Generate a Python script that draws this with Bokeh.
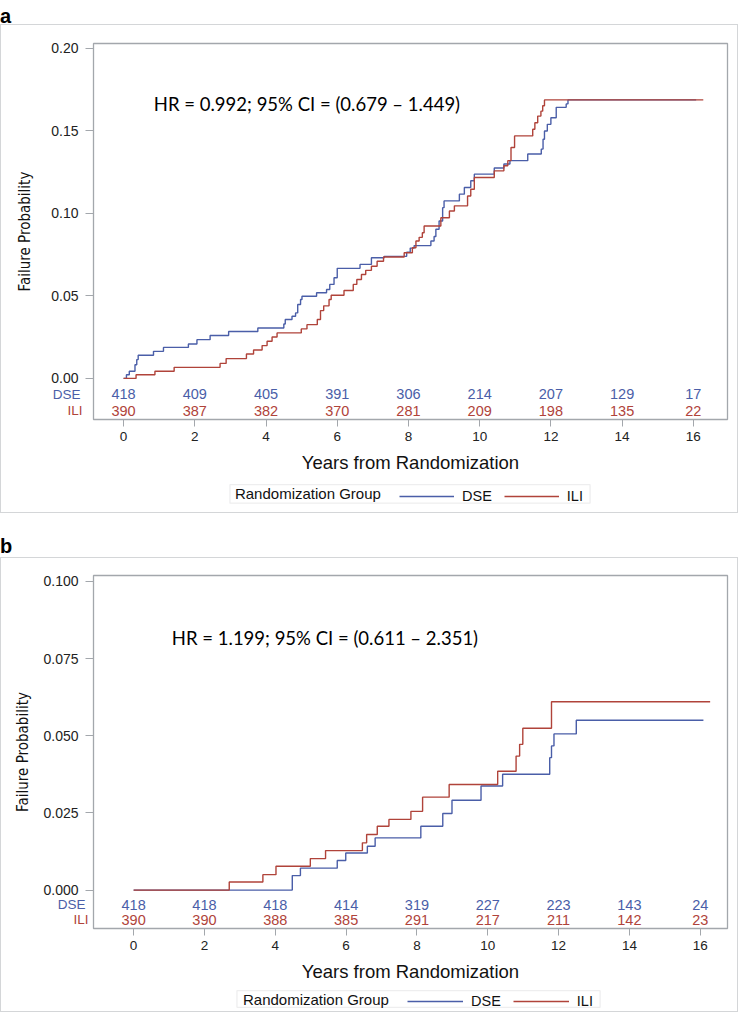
from bokeh.plotting import figure
from bokeh.models import (Range1d, Label, Legend, LegendItem, Div, LinearAxis, BoxAnnotation,
                          FixedTicker, NumeralTickFormatter, ColumnDataSource)
from bokeh.layouts import column
from bokeh.embed import file_html
from bokeh.resources import INLINE
from bokeh.core.properties import value

# ---------------- data ----------------
year_ticks = [0, 2, 4, 6, 8, 10, 12, 14, 16]

# Panel a : step curves (time, cumulative failure probability)
a_dse_t = [0.0, 0.08, 0.16, 0.32, 0.37, 0.41, 0.84, 1.12, 1.82, 2.06, 2.43, 2.95, 3.77,
           4.50, 4.54, 4.73, 4.83, 4.89, 4.97, 5.01, 5.42, 5.70, 5.79, 5.91, 6.00, 6.64,
           6.96, 7.32, 7.95, 8.05, 8.16, 8.63, 8.72, 8.77, 8.86, 8.96, 9.00, 9.43, 9.57,
           9.75, 9.85, 10.41, 10.68, 10.85, 11.35, 11.73, 11.78, 11.82, 11.90, 12.00,
           12.15, 12.43, 12.48, 16.08]
a_dse_p = [0.0, 0.0022, 0.0043, 0.0083, 0.0114, 0.0140, 0.0164, 0.0188, 0.0209, 0.0235,
           0.0260, 0.0284, 0.0306, 0.0330, 0.0357, 0.0377, 0.0397, 0.0448, 0.0478, 0.0498,
           0.0519, 0.0539, 0.0570, 0.0610, 0.0667, 0.0691, 0.0731, 0.0740, 0.0765, 0.0790,
           0.0805, 0.0833, 0.0860, 0.0904, 0.0954, 0.1035, 0.1076, 0.1117, 0.1157, 0.1198,
           0.1238, 0.1275, 0.1300, 0.1320, 0.1360, 0.1390, 0.1450, 0.1500, 0.1540, 0.1580,
           0.1643, 0.1664, 0.1688, 0.1688]
a_ili_t = [0.0, 0.35, 0.88, 1.42, 2.71, 2.88, 3.45, 3.65, 3.89, 4.03, 4.17, 4.31, 4.99,
           5.15, 5.44, 5.53, 5.62, 5.77, 5.83, 6.19, 6.45, 6.55, 6.68, 6.80, 6.96, 7.12,
           7.30, 7.88, 8.11, 8.21, 8.30, 8.39, 8.44, 8.91, 9.15, 9.29, 9.66, 9.75, 9.85,
           10.41, 10.68, 10.79, 10.88, 10.98, 11.49, 11.55, 11.63, 11.72, 11.77, 11.82, 16.28]
a_ili_p = [0.0, 0.0022, 0.0043, 0.0067, 0.0091, 0.0120, 0.0148, 0.0172, 0.0199, 0.0225,
           0.0251, 0.0276, 0.0300, 0.0326, 0.0357, 0.0411, 0.0440, 0.0478, 0.0504, 0.0533,
           0.0570, 0.0600, 0.0630, 0.0655, 0.0680, 0.0710, 0.0736, 0.0762, 0.0792, 0.0833,
           0.0855, 0.0883, 0.0924, 0.0974, 0.1015, 0.1046, 0.1106, 0.1147, 0.1218, 0.1258,
           0.1289, 0.1320, 0.1400, 0.1470, 0.1510, 0.1550, 0.1590, 0.1620, 0.1653, 0.1688,
           0.1688]
a_dse_risk = [418, 409, 405, 391, 306, 214, 207, 129, 17]
a_ili_risk = [390, 387, 382, 370, 281, 209, 198, 135, 22]
a_hr_text = "HR = 0.992; 95% CI = (0.679 \u2013 1.449)"
a_yticks = [0.0, 0.05, 0.10, 0.15, 0.20]

# Panel b
b_dse_t = [0.0, 4.48, 4.71, 5.75, 5.99, 6.60, 6.82, 8.11, 8.73, 8.99, 9.81, 10.42,
           11.75, 11.80, 11.87, 12.50, 16.09]
b_dse_p = [0.0, 0.0047, 0.0071, 0.0096, 0.0120, 0.0142, 0.0169, 0.0207, 0.0248, 0.0291,
           0.0337, 0.0375, 0.0429, 0.0467, 0.0506, 0.0550, 0.0550]
b_ili_t = [0.0, 2.70, 3.65, 4.02, 4.99, 5.42, 6.46, 6.58, 6.88, 7.21, 7.83, 8.16, 8.91,
           10.28, 10.80, 10.90, 10.99, 11.80, 16.28]
b_ili_p = [0.0, 0.0026, 0.0050, 0.0077, 0.0102, 0.0128, 0.0153, 0.0180, 0.0207, 0.0229,
           0.0255, 0.0301, 0.0342, 0.0385, 0.0434, 0.0472, 0.0524, 0.0610, 0.0610]
b_dse_risk = [418, 418, 418, 414, 319, 227, 223, 143, 24]
b_ili_risk = [390, 390, 388, 385, 291, 217, 211, 142, 23]
b_hr_text = "HR = 1.199; 95% CI = (0.611 \u2013 2.351)"
b_yticks = [0.0, 0.025, 0.050, 0.075, 0.100]

groups = ["DSE", "ILI"]
legend_title = "Randomization Group"
x_title = "Years from Randomization"
y_title = "Failure Probability"

# ---------------- style ----------------
BLUE = "#4a5ea8"
RED = "#b0433a"
FRAME = "#a3a7ac"
PANEL = "1px solid #d4d6d8"
TXT = "#222222"
SANS = "Liberation Sans"
BL, BR, FW = 92, 12, 632   # shared horizontal borders / frame width


def build_main(cfg):
    p = figure(frame_width=FW, frame_height=cfg["fh"],
               min_border_left=BL, min_border_right=BR,
               min_border_top=cfg["bt"], min_border_bottom=cfg["bb"],
               x_range=Range1d(*cfg["xr"]), y_range=Range1d(*cfg["yr"]),
               output_backend="svg", toolbar_location=None,
               styles={"border-top": PANEL, "border-left": PANEL, "border-right": PANEL})
    p.grid.visible = False
    p.outline_line_color = FRAME
    p.outline_line_width = 1.3

    xa = p.xaxis[0]
    xa.ticker = FixedTicker(ticks=year_ticks)
    xa.bounds = (0, 16)
    xa.axis_line_color = None
    xa.major_tick_line_color = FRAME
    xa.major_tick_out = 7
    xa.major_tick_in = 0
    xa.minor_tick_line_color = None
    xa.major_label_standoff = 5
    xa.major_label_text_font = SANS
    xa.major_label_text_font_size = "13.5px"
    xa.major_label_text_color = TXT
    xa.axis_label = x_title
    xa.axis_label_text_font = SANS
    xa.axis_label_text_font_size = "18.5px"
    xa.axis_label_text_font_style = "normal"
    xa.axis_label_text_color = "#111111"
    xa.axis_label_standoff = 8

    ya = p.yaxis[0]
    ya.ticker = FixedTicker(ticks=cfg["yticks"])
    ya.formatter = NumeralTickFormatter(format=cfg["yfmt"])
    ya.bounds = (cfg["yticks"][0], cfg["yticks"][-1])
    ya.axis_line_color = None
    ya.major_tick_line_color = FRAME
    ya.major_tick_out = 8
    ya.major_tick_in = 0
    ya.minor_tick_line_color = None
    ya.major_label_standoff = 7
    ya.major_label_text_font = SANS
    ya.major_label_text_font_size = "14px"
    ya.major_label_text_color = TXT
    ya.axis_label = y_title
    ya.axis_label_text_font = "DejaVu Sans Condensed, Liberation Sans"
    ya.axis_label_text_font_size = "15px"
    ya.axis_label_text_font_style = "normal"
    ya.axis_label_text_color = "#111111"
    ya.axis_label_standoff = cfg["ytstand"]

    # at-risk row names: extra outer axes whose labels are pulled back beside the frame
    for name, yy, col, sd in ((groups[0], cfg["row_dse"], BLUE, cfg["sd"]),
                              (groups[1], cfg["row_ili"], RED, cfg["si"])):
        ax = LinearAxis(ticker=FixedTicker(ticks=[yy]),
                        major_label_overrides={yy: name}, axis_line_color=None,
                        major_tick_line_color=None, minor_tick_line_color=None,
                        major_tick_out=0, major_tick_in=0,
                        major_label_standoff=sd,
                        major_label_text_font=SANS, major_label_text_font_size="13.5px",
                        major_label_text_color=col,
                        axis_label=" ", axis_label_standoff=30,
                        axis_label_text_font_size="13.5px")
        p.add_layout(ax, "left")

    p.step(cfg["dse_t"], cfg["dse_p"], mode="after", line_color=BLUE, line_width=1.4)
    p.step(cfg["ili_t"], cfg["ili_p"], mode="after", line_color=RED, line_width=1.4)

    n = len(year_ticks)
    src = ColumnDataSource(dict(
        x=year_ticks + year_ticks,
        y=[cfg["row_dse"]] * n + [cfg["row_ili"]] * n,
        t=[str(v) for v in cfg["dse_risk"]] + [str(v) for v in cfg["ili_risk"]],
        c=[BLUE] * n + [RED] * n))
    p.text(x="x", y="y", text="t", text_color="c", source=src, text_align="center",
           text_baseline="middle", text_font=value(SANS), text_font_size="14.5px")

    p.add_layout(Label(x=cfg["hr_x"], y=cfg["hr_y"], text=cfg["hr"], text_baseline="middle",
                       text_font="Lato", text_font_size="18.5px", text_color="#000000"))
    return p


def build_legend(cfg):
    # strip under the plot; its x/y data units are pixels of the strip
    h = cfg["lh"]
    q = figure(frame_width=FW, frame_height=h, min_border_left=BL, min_border_right=BR,
               min_border_top=0, min_border_bottom=0,
               x_range=Range1d(0, FW), y_range=Range1d(0, h),
               x_axis_type=None, y_axis_type=None,
               output_backend="svg", toolbar_location=None,
               styles={"border-bottom": PANEL, "border-left": PANEL, "border-right": PANEL})
    q.grid.visible = False
    q.outline_line_color = None
    bx0, bx1, by0, by1 = cfg["box"]
    q.add_layout(BoxAnnotation(left=bx0, right=bx1, bottom=by0, top=by1,
                               fill_alpha=0, line_color="#c6c8ca", line_width=1.3))
    q.add_layout(Label(x=bx0 + cfg["tpad"], y=(by0 + by1) / 2, text=legend_title,
                       text_baseline="middle", text_font=SANS, text_font_size="15px",
                       text_color="#111111"))
    # off-range carriers so that the legend draws the line samples
    r1 = q.line([-20, -10], [-20, -20], line_color=BLUE, line_width=1.4)
    r2 = q.line([-20, -10], [-20, -20], line_color=RED, line_width=1.4)
    leg = Legend(items=[LegendItem(label=groups[0], renderers=[r1]),
                        LegendItem(label=groups[1], renderers=[r2])],
                 orientation="horizontal", location=cfg["legloc"],
                 glyph_width=cfg["gw"], glyph_height=14, label_height=14, label_width=0,
                 label_standoff=8, spacing=12, padding=2, margin=0,
                 border_line_color=None, background_fill_alpha=0,
                 label_text_font=SANS, label_text_font_size="14.5px",
                 label_text_color="#111111")
    q.add_layout(leg, "center")
    return q


cfg_a = dict(fh=375, bt=18, bb=60,
             xr=(-0.845, 16.96), yr=(-0.0249, 0.2030),
             yticks=a_yticks, yfmt="0.00", ytstand=14,
             dse_t=a_dse_t, dse_p=a_dse_p, ili_t=a_ili_t, ili_p=a_ili_p,
             dse_risk=a_dse_risk, ili_risk=a_ili_risk,
             row_dse=-0.00973, row_ili=-0.01945, sd=-67, si=-81,
             hr=a_hr_text, hr_x=0.85, hr_y=0.1666)
leg_a = dict(lh=34, box=(136, 495, 10, 28), tpad=5, legloc=(306, 9), gw=55)

cfg_b = dict(fh=352, bt=17, bb=57,
             xr=(-1.133, 16.77), yr=(-0.01244, 0.1019),
             yticks=b_yticks, yfmt="0.000", ytstand=8,
             dse_t=b_dse_t, dse_p=b_dse_p, ili_t=b_ili_t, ili_p=b_ili_p,
             dse_risk=b_dse_risk, ili_risk=b_ili_risk,
             row_dse=-0.00474, row_ili=-0.00961, sd=-74, si=-82,
             hr=b_hr_text, hr_x=1.08, hr_y=0.0817)
leg_b = dict(lh=27, box=(143, 505, 5, 21), tpad=6, legloc=(314, 3), gw=56)

pa = build_main(cfg_a)
qa = build_legend(leg_a)
pb = build_main(cfg_b)
qb = build_legend(leg_b)

lab_style = "font-family:'Liberation Sans',Arial,sans-serif;font-weight:bold;font-size:20px;line-height:16px;"
div_a = Div(text=f"<div style=\"{lab_style}padding-top:8px;\">a</div>",
            width=738, height=24, margin=0)
div_b = Div(text=f"<div style=\"{lab_style}padding-top:25px;\">b</div>",
            width=738, height=44, margin=0)

layout = column(div_a, pa, qa, div_b, pb, qb, spacing=0)

open("out.html", "w").write(file_html(layout, INLINE))
